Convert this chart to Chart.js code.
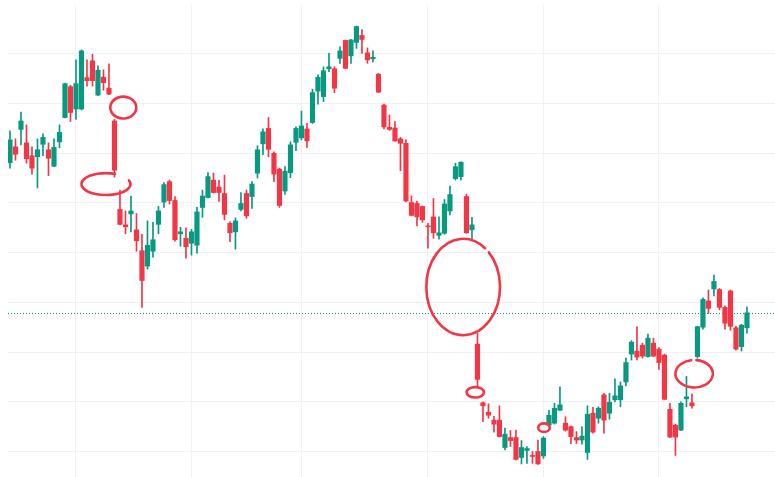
<!DOCTYPE html>
<html>
<head>
<meta charset="utf-8">
<script src="https://cdn.jsdelivr.net/npm/chart.js@4.4.0/dist/chart.umd.min.js"></script>
<style>
    html, body { margin: 0; padding: 0; background: #ffffff; }
    #wrap { width: 775px; height: 477px; }
</style>
</head>
<body>
<div id="wrap"><canvas id="priceChart"></canvas></div>
<script>
// OHLC per session
const opens = [158.1,161.3,164.8,162.1,159.5,159.3,161.8,160.7,157.4,162.3,167.2,173.4,168.9,168.9,175.2,178.6,171.7,175.3,173.1,166.5,
    148.7,145.6,147.8,144.6,140.4,137.3,140.3,145.7,150.2,154.3,150.5,143.8,142.9,141.9,141.5,149.1,151.1,154.6,153.2,151.9,
    145.9,144.2,148.7,151.9,151.3,156.0,161.9,165.0,160.0,156.8,152.4,156.1,162.2,163.1,164.9,166.2,172.5,171.4,177.0,177.0,
    179.1,182.7,179.6,182.3,183.7,180.2,179.0,175.9,169.7,165.2,165.1,162.9,162.0,150.1,149.9,149.3,145.4,147.2,143.5,143.9,
    148.4,154.9,155.3,151.3,144.6,121.6,109.8,107.9,106.3,106.3,100.8,102.8,102.8,98.8,100.2,99.2,100.0,99.1,105.3,105.7,
    108.3,105.7,105.0,102.8,102.3,99.8,107.7,106.7,111.4,107.7,110.4,110.4,114.0,119.6,120.2,121.4,119.1,121.8,120.6,119.4,
    108.5,105.3,104.3,110.6,109.8,119.1,125.0,130.3,132.7,132.6,129.0,132.3,124.9,121.1,124.9];
const highs = [164.5,162.9,168.3,165.7,161.3,162.9,163.9,162.1,162.9,165.7,174.1,173.7,178.8,180.8,178.8,179.9,177.6,176.8,178.0,166.8,
    152.6,148.4,151.4,147.9,143.7,146.4,146.1,149.3,154.1,154.6,151.3,145.1,145.0,144.7,149.1,152.6,156.1,156.0,154.6,155.6,
    146.2,147.0,152.1,152.6,154.3,161.5,164.9,167.2,160.3,157.0,157.3,162.3,165.3,168.5,166.0,172.9,175.8,177.4,180.1,177.4,
    181.4,182.8,182.9,185.6,184.9,181.2,180.6,176.1,169.9,167.7,166.4,163.2,162.7,151.4,150.4,149.4,145.9,150.9,147.2,150.7,
    153.4,158.0,158.3,151.8,147.1,123.8,110.0,109.6,107.1,109.2,104.7,104.2,104.3,102.2,101.0,100.0,102.3,103.0,108.3,109.7,
    113.0,107.0,105.1,104.0,105.0,109.2,108.9,109.0,111.7,111.7,114.6,114.0,118.8,122.3,125.1,121.8,123.6,122.8,120.9,119.6,
    109.7,105.5,110.0,115.1,111.6,125.2,130.9,132.5,135.5,132.8,129.3,132.5,125.2,125.6,129.1];
const lows = [157.0,158.6,161.7,158.0,155.8,153.0,159.5,155.5,157.3,161.1,167.1,166.4,166.8,168.7,173.5,173.5,171.6,172.7,171.8,155.2,
    145.6,143.8,144.2,140.3,129.0,136.7,139.1,143.8,149.1,149.8,142.3,141.3,138.9,139.5,139.9,147.1,151.0,152.0,150.3,146.6,
    142.2,140.7,148.4,146.9,148.9,155.0,159.7,159.3,154.3,149.1,151.7,155.1,160.5,162.7,161.2,166.0,169.9,170.4,176.4,172.2,
    178.1,177.0,178.1,181.1,180.1,178.1,178.4,172.2,164.9,164.6,162.4,156.5,150.2,147.4,145.4,146.1,140.9,142.9,142.7,143.7,
    147.6,154.6,154.6,143.9,142.7,113.0,106.0,106.7,103.9,102.9,100.3,101.0,98.3,97.5,97.6,97.6,97.4,98.6,105.1,105.5,
    108.2,104.1,101.6,101.6,101.5,98.4,103.7,105.7,103.7,106.5,110.0,109.0,113.2,118.4,118.4,118.8,119.0,119.1,116.5,110.4,
    102.8,99.2,104.2,109.0,108.7,118.8,124.6,127.8,131.3,128.5,124.6,124.4,120.4,120.2,123.8];
const closes = [162.7,159.8,166.5,158.9,157.0,160.7,163.2,159.0,161.2,164.2,174.0,168.2,174.0,180.6,174.6,174.6,176.7,174.2,171.9,156.6,
    145.7,145.2,148.4,142.4,134.4,141.5,142.6,148.4,153.7,150.5,142.6,144.2,141.2,144.2,148.2,151.4,155.3,152.1,152.1,147.7,
    144.0,146.4,149.9,147.4,153.8,160.7,164.3,160.8,155.8,149.5,156.4,161.7,165.0,165.5,162.5,172.2,175.3,176.6,177.4,173.1,
    180.6,177.1,182.8,185.5,182.9,178.8,179.3,172.3,165.3,164.8,162.5,162.0,150.4,147.5,147.2,146.6,145.2,144.0,144.0,149.8,
    151.7,157.3,158.2,144.0,145.6,114.5,109.2,107.3,105.5,103.0,103.5,102.2,98.4,100.8,100.6,99.0,97.5,102.7,107.3,108.7,
    109.4,104.3,103.0,102.3,103.1,107.5,103.9,108.7,106.3,109.9,111.2,113.2,117.9,122.0,119.0,119.2,122.8,119.2,117.9,110.5,
    102.9,102.9,109.7,111.0,109.2,125.1,130.6,128.8,134.2,129.0,125.8,125.2,120.6,125.4,127.9];

// sessions where a new month starts (vertical grid lines)
const monthStarts = [12, 33, 53, 76, 97, 118];

// hand-drawn red rings: centre (session, price), half size, arc start/end
const markups = [
    { index: 20.6, price: 169.2, spanX: 2.36, spanY: 2.2, from: -1.0, to: 5.45 },
    { index: 17.45, price: 153.8, spanX: 4.45, spanY: 2.2, from: -0.35, to: 5.08 },
    { index: 82.4, price: 133.1, spanX: 6.7, spanY: 9.7, from: -0.8, to: 5.35 },
    { index: 84.6, price: 111.9, spanX: 1.58, spanY: 1.05, from: 0, to: 6.6 },
    { index: 97.1, price: 104.8, spanX: 1.05, spanY: 0.85, from: 0, to: 6.6 },
    { index: 124.4, price: 115.65, spanX: 3.4, spanY: 2.76, from: -1.45, to: 4.55 }
];

const UP = '#089981';
const DOWN = '#f23645';

document.addEventListener("DOMContentLoaded", () => {

    const candleColors = closes.map((c, i) => c >= opens[i] ? UP : DOWN);
    const bodies = closes.map((c, i) => ({ x: i, y: [opens[i], c] }));
    const wicks = highs.map((h, i) => ({ x: i, y: [lows[i], h] }));

    // dotted line at last close
    const lastPriceLine = {
        id: 'lastPriceLine',
        beforeDatasetsDraw(chart) {
            const { ctx, chartArea, scales } = chart;
            const y = Math.round(scales.y.getPixelForValue(closes[closes.length - 1])) + 0.5;
            ctx.save();
            ctx.strokeStyle = candleColors[candleColors.length - 1];
            ctx.lineWidth = 1;
            ctx.setLineDash([1, 2]);
            ctx.beginPath();
            ctx.moveTo(chartArea.left, y);
            ctx.lineTo(chartArea.right, y);
            ctx.stroke();
            ctx.restore();
        }
    };

    const rings = {
        id: 'rings',
        afterDatasetsDraw(chart) {
            const { ctx, scales } = chart;
            ctx.save();
            ctx.strokeStyle = '#f23645';
            ctx.lineWidth = 2.6;
            ctx.lineCap = 'round';
            markups.forEach(m => {
                const cx = scales.x.getPixelForValue(m.index);
                const cy = scales.y.getPixelForValue(m.price);
                const rx = Math.abs(scales.x.getPixelForValue(m.index + m.spanX) - cx);
                const ry = Math.abs(scales.y.getPixelForValue(m.price + m.spanY) - cy);
                ctx.beginPath();
                ctx.ellipse(cx, cy, rx, ry, 0, m.from, m.to);
                ctx.stroke();
            });
            ctx.restore();
        }
    };

    const canvas = document.getElementById('priceChart');
    new Chart(canvas.getContext('2d'), {
        type: 'bar',
        data: {
            datasets: [{
                label: 'Body',
                data: bodies,
                backgroundColor: candleColors,
                barThickness: 4.5,
                maxBarThickness: 4.5,
                minBarLength: 1,
                grouped: false,
                order: 0
            }, {
                label: 'Wick',
                data: wicks,
                backgroundColor: candleColors,
                barThickness: 1,
                maxBarThickness: 1,
                grouped: false,
                order: 1
            }]
        },
        options: {
            responsive: true,
            maintainAspectRatio: false,
            animation: false,
            layout: { padding: { left: 8, top: 5, right: 0, bottom: 0 } },
            plugins: {
                legend: { display: false },
                tooltip: { enabled: false }
            },
            scales: {
                x: {
                    type: 'linear',
                    offset: false,
                    min: -0.36,
                    max: 139.1,
                    afterBuildTicks: (scale) => {
                        scale.ticks = monthStarts.map(v => ({ value: v }));
                    },
                    ticks: { display: false },
                    grid: { color: '#f0f1f4', drawTicks: false, offset: false },
                    border: { display: false }
                },
                y: {
                    min: 94.87,
                    max: 189.83,
                    afterBuildTicks: (scale) => {
                        scale.ticks = scale.ticks.filter(t => Math.abs(t.value % 10) < 1e-6);
                    },
                    ticks: { display: false, stepSize: 10 },
                    grid: { color: '#f0f1f4', drawTicks: false },
                    border: { display: false }
                }
            }
        },
        plugins: [lastPriceLine, rings]
    });

});
</script>
</body>
</html>
